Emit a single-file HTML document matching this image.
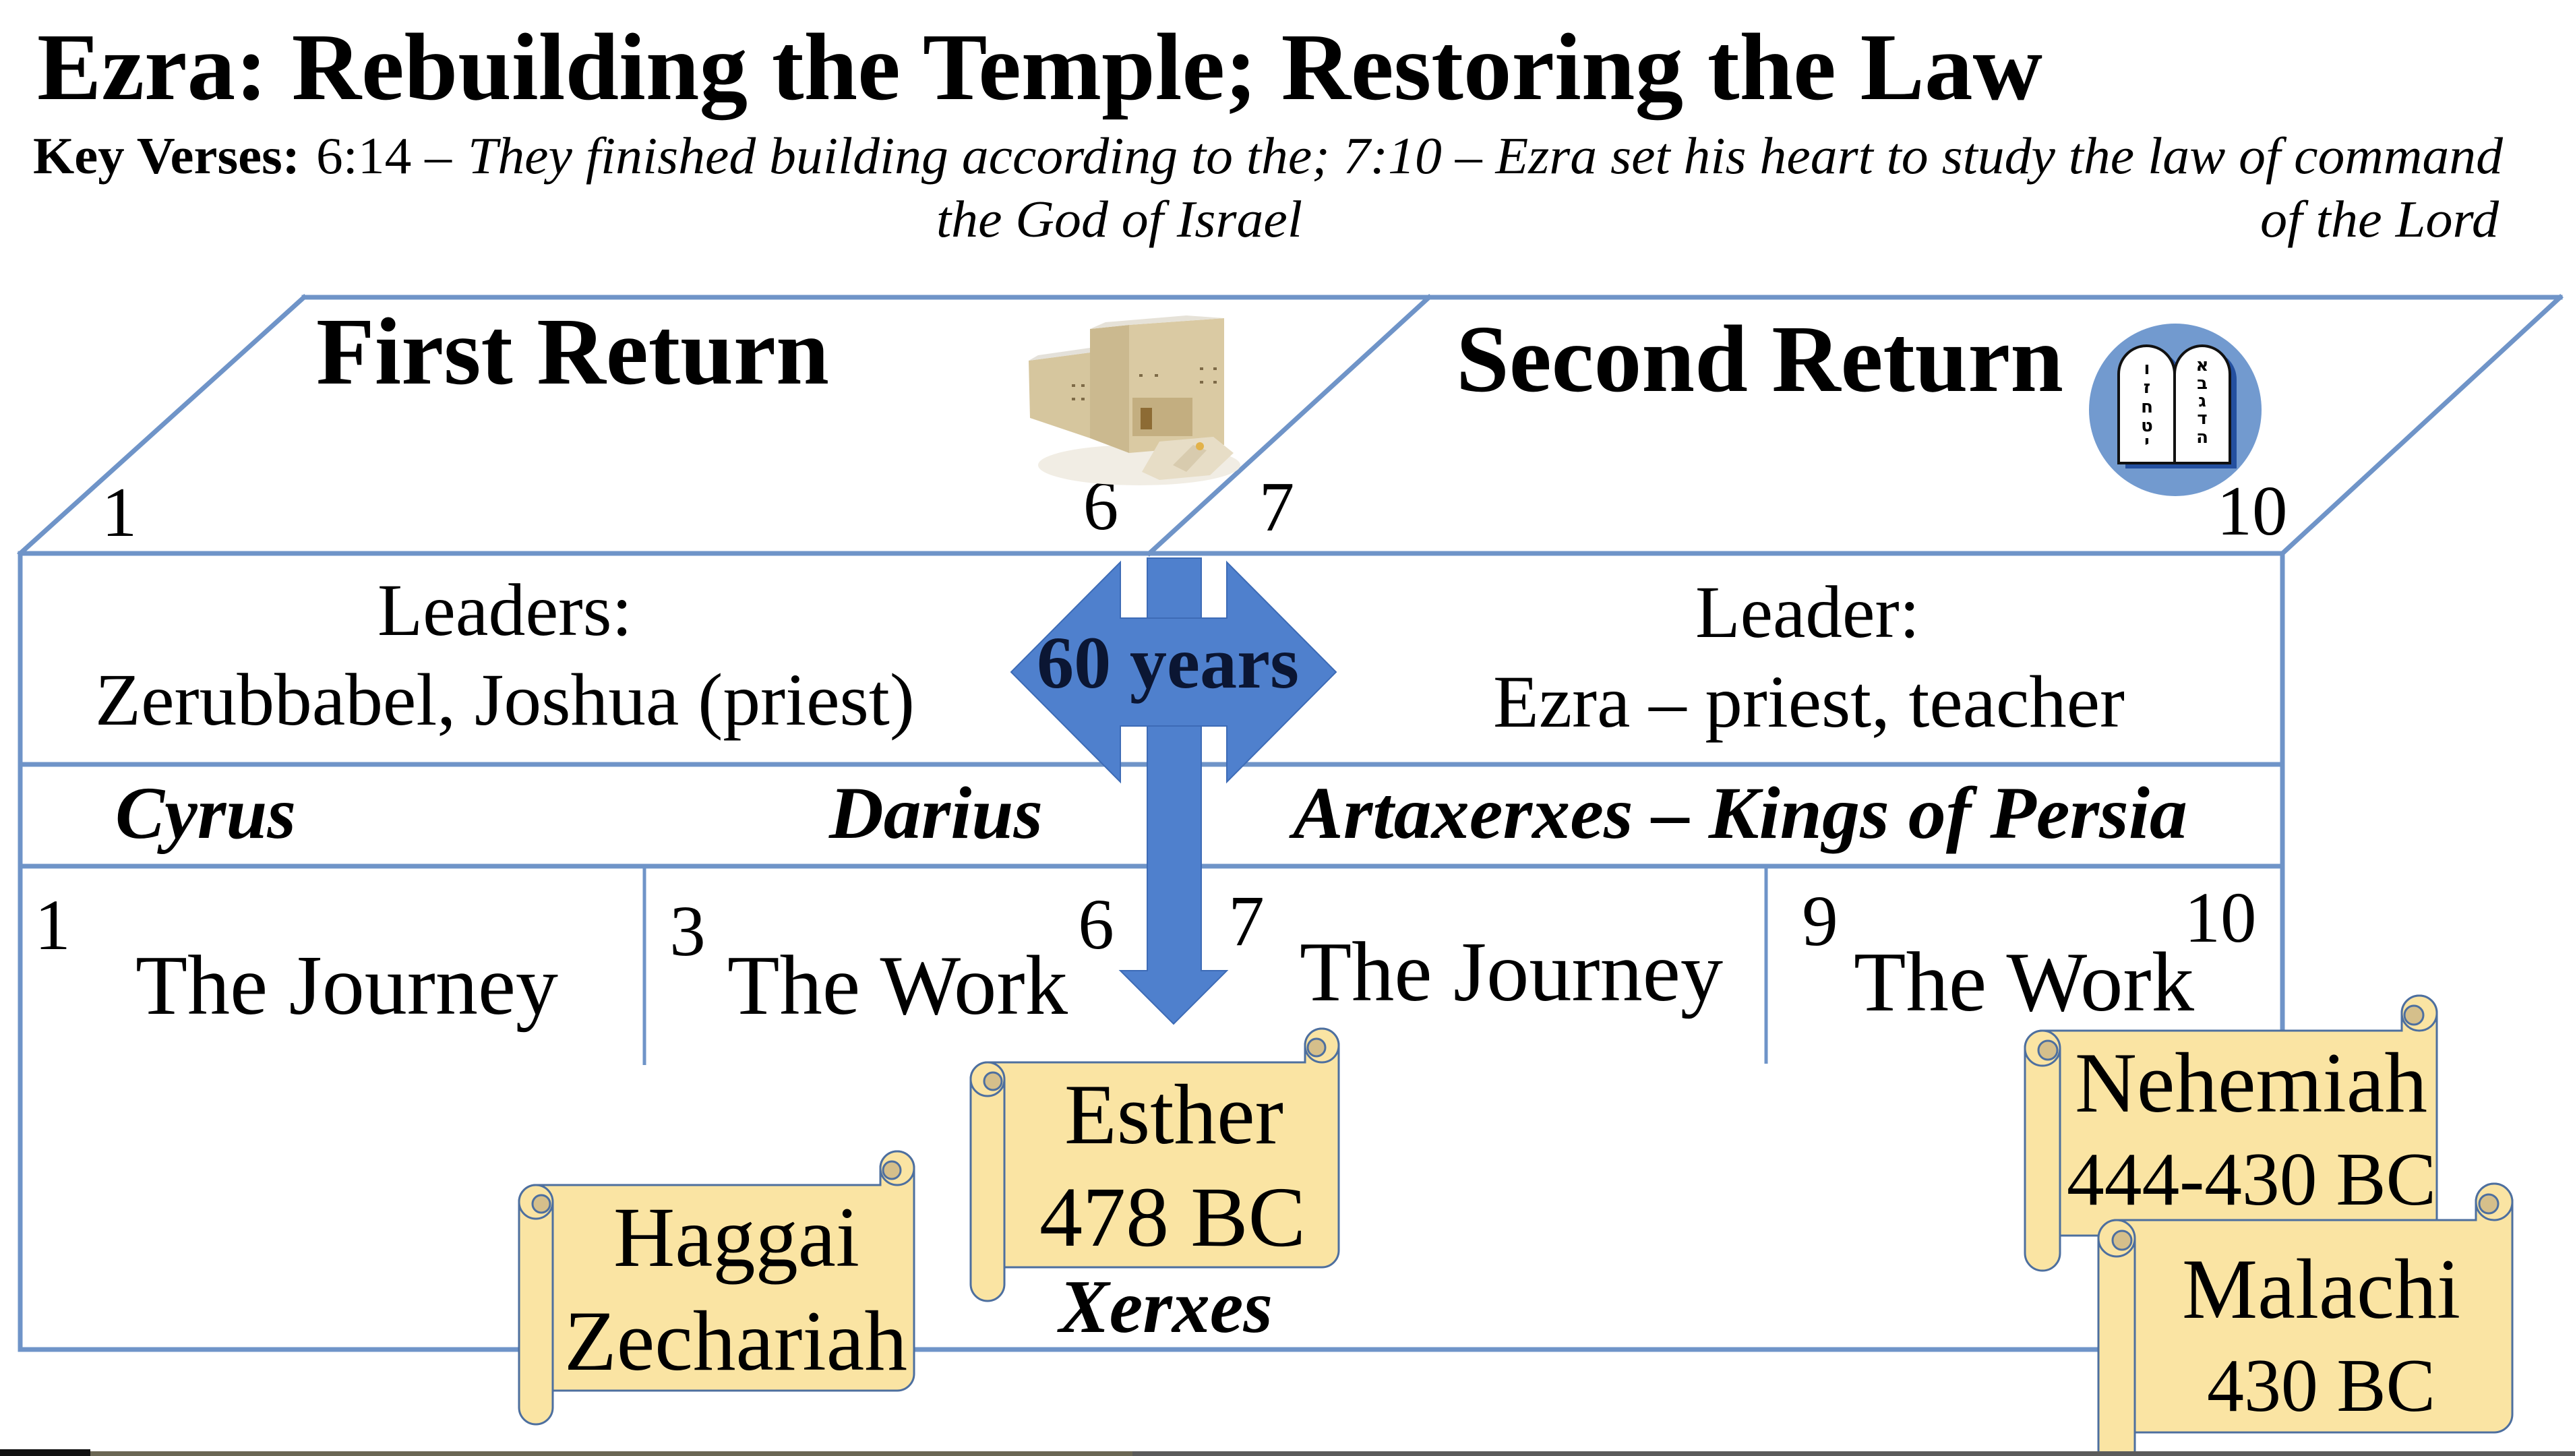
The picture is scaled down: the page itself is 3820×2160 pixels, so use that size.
<!DOCTYPE html>
<html><head><meta charset="utf-8">
<style>
html,body{margin:0;padding:0;background:#fff;}
svg{display:block;}
text{font-family:"Liberation Serif","DejaVu Serif",serif;fill:#000;}
</style></head>
<body>
<svg width="3820" height="2160" viewBox="0 0 3820 2160" xmlns="http://www.w3.org/2000/svg">
<rect width="3820" height="2160" fill="#ffffff"/>

<!-- Title -->
<text x="55" y="147" font-size="142" font-weight="bold" textLength="2975" lengthAdjust="spacingAndGlyphs">Ezra: Rebuilding the Temple; Restoring the Law</text>
<text x="49" y="257" font-size="77" font-weight="bold" textLength="396" lengthAdjust="spacingAndGlyphs">Key Verses:</text>
<text x="469" y="257" font-size="77" textLength="201" lengthAdjust="spacingAndGlyphs">6:14 –</text>
<text x="694" y="257" font-size="77" font-style="italic" textLength="3019" lengthAdjust="spacingAndGlyphs">They finished building according to the; 7:10 – Ezra set his heart to study the law of command</text>
<text x="1389" y="351" font-size="77" font-style="italic" textLength="543" lengthAdjust="spacingAndGlyphs">the God of Israel</text>
<text x="3353" y="351" font-size="77" font-style="italic" textLength="354" lengthAdjust="spacingAndGlyphs">of the Lord</text>

<!-- Frame lines -->
<g stroke="#6f94c8" stroke-width="7" fill="none" stroke-linecap="square">
  <line x1="451" y1="441" x2="3798" y2="441"/>
  <line x1="451" y1="441" x2="30" y2="821"/>
  <line x1="2120" y1="441" x2="1705" y2="821"/>
  <line x1="3798" y1="441" x2="3386" y2="821"/>
  <line x1="30" y1="821" x2="3386" y2="821"/>
  <line x1="30" y1="1134" x2="3386" y2="1134"/>
  <line x1="30" y1="1285" x2="3386" y2="1285"/>
  <line x1="30" y1="821" x2="30" y2="2002"/>
  <line x1="3386" y1="821" x2="3386" y2="1560"/>
  <line x1="30" y1="2002" x2="3120" y2="2002"/>
</g>
<g stroke="#6f94c8" stroke-width="5">
  <line x1="956" y1="1285" x2="956" y2="1580"/>
  <line x1="2620" y1="1285" x2="2620" y2="1578"/>
</g>

<!-- Top row text -->
<text x="469" y="569" font-size="142" font-weight="bold" textLength="761" lengthAdjust="spacingAndGlyphs">First Return</text>
<text x="2160" y="580" font-size="142" font-weight="bold" textLength="901" lengthAdjust="spacingAndGlyphs">Second Return</text>
<g font-size="105" text-anchor="middle">
  <text x="177" y="795">1</text>
  <text x="1633" y="785">6</text>
  <text x="1894" y="787">7</text>
  <text x="3341" y="793">10</text>
</g>

<!-- Leaders -->
<text x="560" y="942" font-size="110" textLength="378" lengthAdjust="spacingAndGlyphs">Leaders:</text>
<text x="141" y="1075" font-size="110" textLength="1216" lengthAdjust="spacingAndGlyphs">Zerubbabel, Joshua (priest)</text>
<text x="2515" y="945" font-size="110" textLength="333" lengthAdjust="spacingAndGlyphs">Leader:</text>
<text x="2215" y="1078" font-size="110" textLength="937" lengthAdjust="spacingAndGlyphs">Ezra – priest, teacher</text>

<!-- Kings -->
<text x="171" y="1243" font-size="110" font-weight="bold" font-style="italic" textLength="268" lengthAdjust="spacingAndGlyphs">Cyrus</text>
<text x="1230" y="1243" font-size="110" font-weight="bold" font-style="italic" textLength="317" lengthAdjust="spacingAndGlyphs">Darius</text>
<text x="1918" y="1243" font-size="110" font-weight="bold" font-style="italic" textLength="1327" lengthAdjust="spacingAndGlyphs">Artaxerxes – Kings of Persia</text>

<!-- Bottom section -->
<g font-size="107" text-anchor="middle">
  <text x="78" y="1408">1</text>
  <text x="1020" y="1417">3</text>
  <text x="1626" y="1407">6</text>
  <text x="1849" y="1402">7</text>
  <text x="2700" y="1402">9</text>
  <text x="3294" y="1397">10</text>
</g>
<text x="201" y="1504" font-size="126" textLength="627" lengthAdjust="spacingAndGlyphs">The Journey</text>
<text x="1079" y="1504" font-size="126" textLength="505" lengthAdjust="spacingAndGlyphs">The Work</text>
<text x="1928" y="1484" font-size="126" textLength="628" lengthAdjust="spacingAndGlyphs">The Journey</text>
<text x="2750" y="1499" font-size="126" textLength="505" lengthAdjust="spacingAndGlyphs">The Work</text>

<!-- Arrows -->
<g fill="#4f80cd" stroke="#3d6bb6" stroke-width="2">
  <path d="M1702 828 L1782 828 L1782 1440 L1820 1440 L1741 1519 L1662 1440 L1702 1440 Z"/>
  <polygon points="1500,997 1662,834 1662,917 1820,917 1820,834 1982,997 1820,1160 1820,1077 1662,1077 1662,1160"/>
</g>
<rect x="1703" y="918" width="78" height="158" fill="#4f80cd"/>
<text x="1538" y="1020" font-size="110" font-weight="bold" style="fill:#0b1633" textLength="389" lengthAdjust="spacingAndGlyphs">60 years</text>

<!-- Temple image -->
<g>
  <ellipse cx="1690" cy="690" rx="150" ry="30" fill="#f1ede4"/>
  <polygon points="1526,535 1617,523 1617,650 1528,620" fill="#d6c69e"/>
  <polygon points="1526,535 1617,523 1617,516 1540,527" fill="#e4e1da"/>
  <polygon points="1617,488 1675,482 1675,672 1617,650" fill="#cbb98f"/>
  <polygon points="1675,482 1816,472 1816,660 1675,672" fill="#dacaa3"/>
  <polygon points="1617,488 1675,482 1816,472 1760,468 1640,478" fill="#e6e2d8"/>
  <rect x="1680" y="590" width="89" height="57" fill="#c3ae80"/>
  <rect x="1692" y="605" width="17" height="32" fill="#8d6b34"/>
  <polygon points="1694,700 1720,655 1800,648 1830,672 1795,705 1720,712" fill="#e7ddc6"/>
  <polygon points="1740,690 1770,660 1790,668 1760,700" fill="#d8cbae"/>
  <circle cx="1780" cy="662" r="6" fill="#e2b24a"/>
  <g fill="#7d6a47">
    <rect x="1590" y="570" width="5" height="4"/><rect x="1604" y="570" width="5" height="4"/>
    <rect x="1590" y="590" width="5" height="4"/><rect x="1604" y="590" width="5" height="4"/>
    <rect x="1690" y="555" width="5" height="4"/><rect x="1713" y="555" width="5" height="4"/>
    <rect x="1780" y="545" width="5" height="4"/><rect x="1800" y="545" width="5" height="4"/>
    <rect x="1780" y="565" width="5" height="4"/><rect x="1800" y="565" width="5" height="4"/>
  </g>
</g>

<!-- Tablets icon -->
<g>
  <circle cx="3227" cy="608" r="128" fill="#729acf"/>
  <path d="M3153 695 L3153 563 A41.5 42 0 0 1 3236 563 A41 42 0 0 1 3318 563 L3318 695 Z" fill="#24509f"/>
  <path d="M3143 687 L3143 555 A41.5 42 0 0 1 3226 555 L3226 687 Z" fill="#fff" stroke="#111" stroke-width="4"/>
  <path d="M3226 687 L3226 555 A41 42 0 0 1 3308 555 L3308 687 Z" fill="#fff" stroke="#111" stroke-width="4"/>
  <g font-size="26" font-weight="bold" text-anchor="middle" style="font-family:'DejaVu Sans',sans-serif">
    <text x="3267" y="550" style="font-family:'DejaVu Sans',sans-serif">א</text>
    <text x="3267" y="577" style="font-family:'DejaVu Sans',sans-serif">ב</text>
    <text x="3267" y="603" style="font-family:'DejaVu Sans',sans-serif">ג</text>
    <text x="3267" y="629" style="font-family:'DejaVu Sans',sans-serif">ד</text>
    <text x="3267" y="657" style="font-family:'DejaVu Sans',sans-serif">ה</text>
    <text x="3185" y="555" style="font-family:'DejaVu Sans',sans-serif">ו</text>
    <text x="3185" y="583" style="font-family:'DejaVu Sans',sans-serif">ז</text>
    <text x="3185" y="612" style="font-family:'DejaVu Sans',sans-serif">ח</text>
    <text x="3185" y="640" style="font-family:'DejaVu Sans',sans-serif">ט</text>
    <text x="3185" y="664" style="font-family:'DejaVu Sans',sans-serif">י</text>
  </g>
</g>

<!-- Scrolls -->
<g stroke="#4d6f9f" stroke-width="3">
  <!-- Haggai -->
  <path d="M795 1758 L1306 1758 L1306 1733 A25 25 0 0 1 1356 1733 L1356 2038 A25 25 0 0 1 1331 2063 L820 2063 L820 2088 A25 25 0 0 1 770 2088 L770 1783 A25 25 0 0 1 795 1758 Z" fill="#fae4a3"/>
  <line x1="820" y1="1783" x2="820" y2="2063"/>
  <circle cx="795" cy="1783" r="25" fill="#fae4a3"/>
  <circle cx="803" cy="1786" r="13" fill="#d5bf8b"/>
  <circle cx="1331" cy="1733" r="25" fill="#fae4a3"/>
  <circle cx="1323" cy="1736" r="13" fill="#d5bf8b"/>

  <!-- Esther -->
  <path d="M1465 1576 L1936 1576 L1936 1551 A25 25 0 0 1 1986 1551 L1986 1855 A25 25 0 0 1 1961 1880 L1490 1880 L1490 1905 A25 25 0 0 1 1440 1905 L1440 1601 A25 25 0 0 1 1465 1576 Z" fill="#fae4a3"/>
  <line x1="1490" y1="1601" x2="1490" y2="1880"/>
  <circle cx="1465" cy="1601" r="25" fill="#fae4a3"/>
  <circle cx="1473" cy="1604" r="13" fill="#d5bf8b"/>
  <circle cx="1961" cy="1551" r="25" fill="#fae4a3"/>
  <circle cx="1953" cy="1554" r="13" fill="#d5bf8b"/>

  <!-- Nehemiah -->
  <path d="M3030 1529 L3563 1529 L3563 1503 A26 26 0 0 1 3615 1503 L3615 1807 A26 26 0 0 1 3589 1833 L3056 1833 L3056 1859 A26 26 0 0 1 3004 1859 L3004 1555 A26 26 0 0 1 3030 1529 Z" fill="#fae4a3"/>
  <line x1="3056" y1="1555" x2="3056" y2="1833"/>
  <circle cx="3030" cy="1555" r="26" fill="#fae4a3"/>
  <circle cx="3038" cy="1558" r="14" fill="#d5bf8b"/>
  <circle cx="3589" cy="1503" r="26" fill="#fae4a3"/>
  <circle cx="3581" cy="1506" r="14" fill="#d5bf8b"/>
</g>
<g font-size="127">
  <text x="910" y="1878" textLength="365" lengthAdjust="spacingAndGlyphs">Haggai</text>
  <text x="837" y="2032" textLength="509" lengthAdjust="spacingAndGlyphs">Zechariah</text>
  <text x="1579" y="1696" textLength="325" lengthAdjust="spacingAndGlyphs">Esther</text>
  <text x="1542" y="1848" textLength="395" lengthAdjust="spacingAndGlyphs">478 BC</text>
  <text x="3078" y="1649" textLength="523" lengthAdjust="spacingAndGlyphs">Nehemiah</text>
</g>
<text x="3066" y="1787" font-size="112" textLength="548" lengthAdjust="spacingAndGlyphs">444-430 BC</text>
<text x="1571" y="1976" font-size="112" font-weight="bold" font-style="italic" textLength="317" lengthAdjust="spacingAndGlyphs">Xerxes</text>

<!-- Malachi (on top of Nehemiah) -->
<g stroke="#4d6f9f" stroke-width="3">
  <path d="M3140 1810 L3673 1810 L3673 1783 A27 27 0 0 1 3727 1783 L3727 2098 A27 27 0 0 1 3700 2125 L3167 2125 L3167 2152 A27 27 0 0 1 3113 2152 L3113 1837 A27 27 0 0 1 3140 1810 Z" fill="#fae4a3"/>
  <line x1="3167" y1="1837" x2="3167" y2="2125"/>
  <circle cx="3140" cy="1837" r="27" fill="#fae4a3"/>
  <circle cx="3148" cy="1840" r="14" fill="#d5bf8b"/>
  <circle cx="3700" cy="1783" r="27" fill="#fae4a3"/>
  <circle cx="3692" cy="1786" r="14" fill="#d5bf8b"/>
</g>
<text x="3237" y="1955" font-size="127" textLength="413" lengthAdjust="spacingAndGlyphs">Malachi</text>
<text x="3274" y="2093" font-size="112" textLength="339" lengthAdjust="spacingAndGlyphs">430 BC</text>

<!-- Bottom strip -->
<rect x="0" y="2153" width="3820" height="7" fill="#5b5b5b"/>
<rect x="134" y="2153" width="1546" height="7" fill="#6b6754"/>
<rect x="0" y="2150" width="134" height="10" fill="#111"/>
</svg>
</body></html>
